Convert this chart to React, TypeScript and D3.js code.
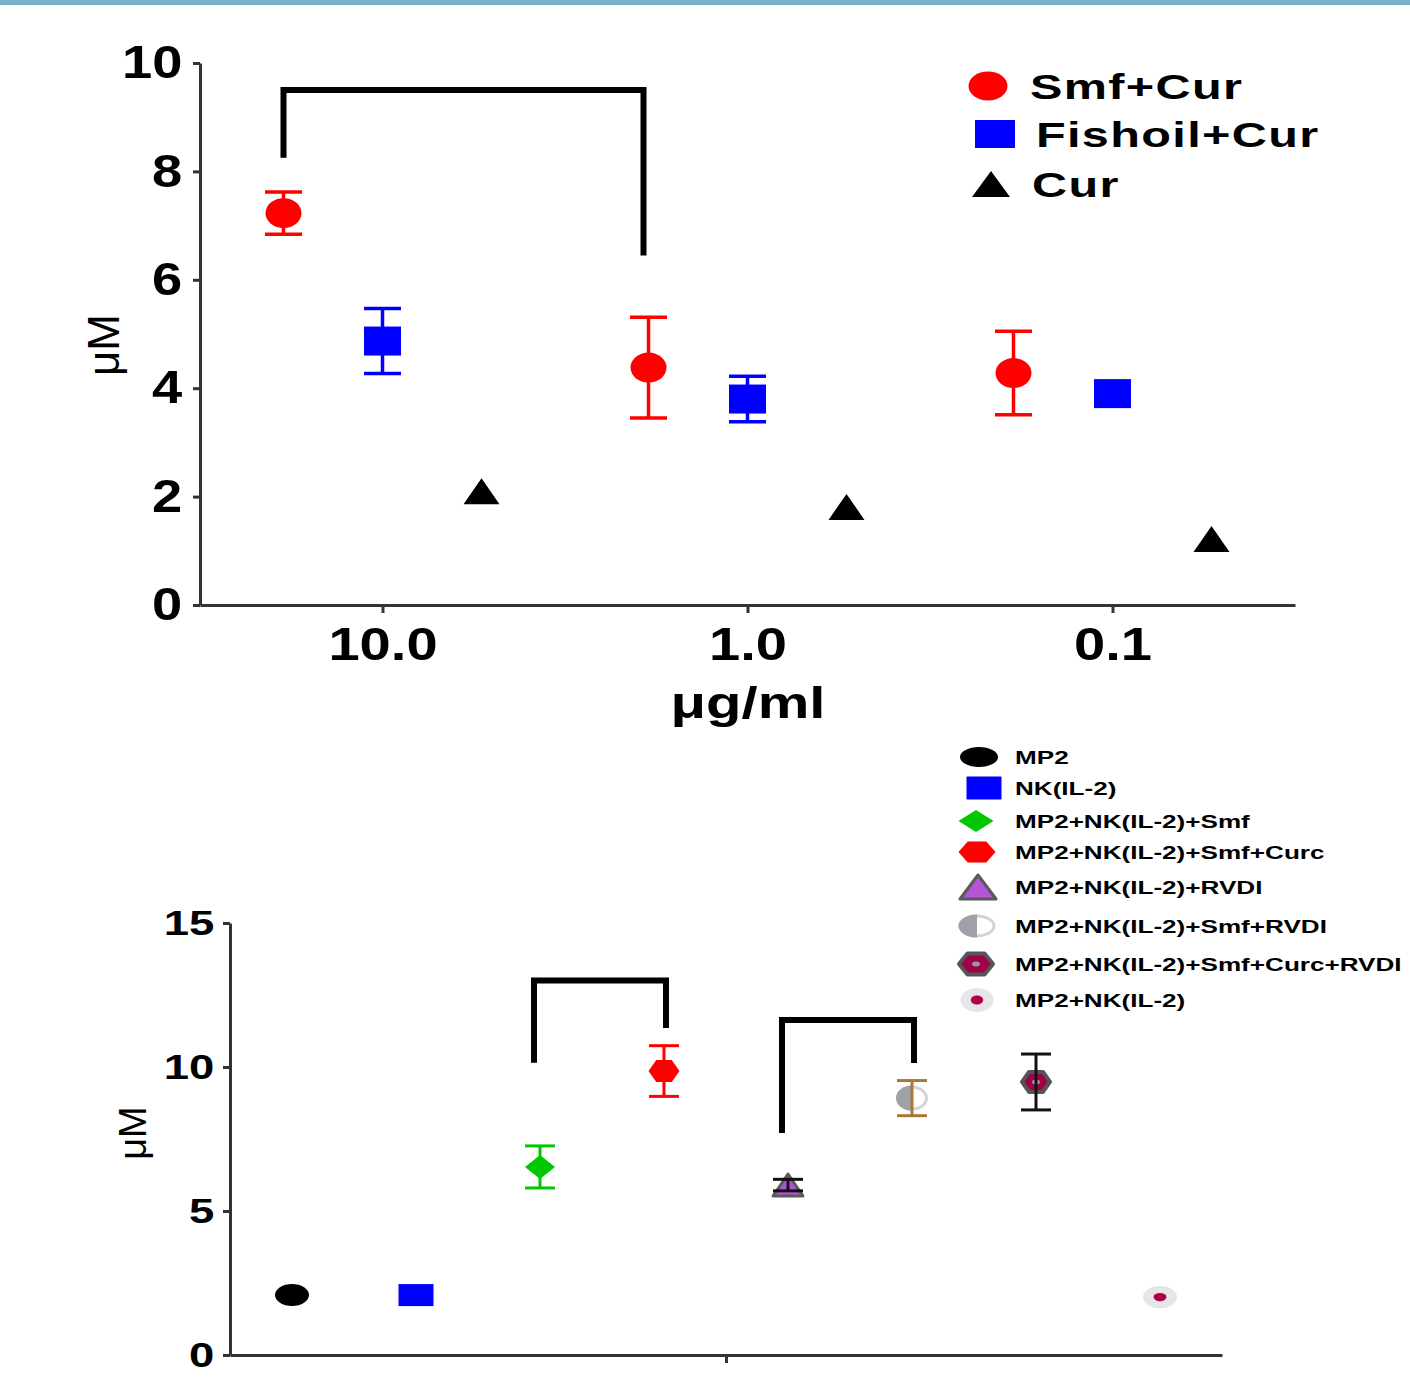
import React, { useEffect, useRef } from "react";
import * as d3 from "d3";

// ---- top panel data ----
const concentrations = [10, 1, 0.1];
const topSeries = ["Smf+Cur", "Fishoil+Cur", "Cur"];
const smfCurMean = [7.23, 4.38, 4.28];
const smfCurErr = [0.39, 0.93, 0.77];
const fishoilCurMean = [4.87, 3.8, 3.9];
const fishoilCurErr = [0.6, 0.42, 0.1];
const curMean = [2.1, 1.81, 1.22];
const curErr = [0, 0, 0];
const topYTicks = [0, 2, 4, 6, 8, 10];
// bracket: [from conc idx, to conc idx, top, left leg end, right leg end]
const topBracket = [0, 1, 9.5, 8.25, 6.45];

// ---- bottom panel data ----
const groupNames = [
  "MP2",
  "NK(IL-2)",
  "MP2+NK(IL-2)+Smf",
  "MP2+NK(IL-2)+Smf+Curc",
  "MP2+NK(IL-2)+RVDI",
  "MP2+NK(IL-2)+Smf+RVDI",
  "MP2+NK(IL-2)+Smf+Curc+RVDI",
  "MP2+NK(IL-2)",
];
const groupMeans = [2.08, 2.08, 6.53, 9.86, 5.9, 8.92, 9.48, 2.01];
const groupErrs = [0, 0, 0.73, 0.88, 0.2, 0.61, 0.97, 0];
const bottomYTicks = [0, 5, 10, 15];
const bottomBrackets = [
  [2, 3, 13.0, 10.15, 11.35],
  [4, 5, 11.63, 7.71, 10.14],
];

// styles
const FONT = "'Liberation Sans', Arial, Helvetica, sans-serif";
const topColors = ["#FF0000", "#0000FF", "#000000"];
const groupShapes = ["ellipse", "square", "diamond", "hexagon", "triangle", "half", "hexDark", "dot"];
const groupColors = ["#000000", "#0000FF", "#00C800", "#FF0000", "#B455D8", "#A0A0A8", "#A0004A", "#B0004A"];
const groupErrColors = ["#000", "#0000FF", "#00C800", "#FF0000", "#111", "#A8783A", "#111", "#000"];

const Marker = ({ kind, cx, cy, w, h, fill }: any) => {
  const hw = w / 2, hh = h / 2;
  if (kind === "ellipse") return <ellipse cx={cx} cy={cy} rx={hw} ry={hh} fill={fill} />;
  if (kind === "square") return <rect x={cx - hw} y={cy - hh} width={w} height={h} fill={fill} />;
  if (kind === "diamond")
    return <polygon points={`${cx - hw},${cy} ${cx},${cy - hh} ${cx + hw},${cy} ${cx},${cy + hh}`} fill={fill} />;
  const hex = `${cx - hw},${cy} ${cx - hw / 2},${cy - hh} ${cx + hw / 2},${cy - hh} ${cx + hw},${cy} ${cx + hw / 2},${cy + hh} ${cx - hw / 2},${cy + hh}`;
  if (kind === "hexagon") return <polygon points={hex} fill={fill} />;
  if (kind === "triangleBlack")
    return <polygon points={`${cx},${cy - hh} ${cx + hw},${cy + hh} ${cx - hw},${cy + hh}`} fill={fill} />;
  if (kind === "triangle")
    return (
      <polygon points={`${cx},${cy - hh + 1.5} ${cx + hw - 1.5},${cy + hh - 1.5} ${cx - hw + 1.5},${cy + hh - 1.5}`}
        fill={fill} stroke="#5a5a5a" strokeWidth={3} strokeLinejoin="round" />
    );
  if (kind === "half")
    return (
      <g>
        <ellipse cx={cx} cy={cy} rx={hw - 1.5} ry={hh - 1.5} fill="#fff" stroke="#d4d4d8" strokeWidth={3} />
        <path d={`M${cx},${cy - hh} A${hw},${hh} 0 0 0 ${cx},${cy + hh} Z`} fill={fill} />
      </g>
    );
  if (kind === "hexDark")
    return (
      <g>
        <polygon points={`${cx - hw + 2},${cy} ${cx - hw / 2 + 1},${cy - hh + 2} ${cx + hw / 2 - 1},${cy - hh + 2} ${cx + hw - 2},${cy} ${cx + hw / 2 - 1},${cy + hh - 2} ${cx - hw / 2 + 1},${cy + hh - 2}`}
          fill={fill} stroke="#555" strokeWidth={4} strokeLinejoin="round" />
        <ellipse cx={cx} cy={cy} rx={4} ry={2.5} fill="#999" />
      </g>
    );
  if (kind === "dot")
    return (
      <g>
        <ellipse cx={cx} cy={cy} rx={hw} ry={hh} fill="#e6e6e8" />
        <ellipse cx={cx} cy={cy} rx={hw * 0.38} ry={hh * 0.38} fill={fill} />
      </g>
    );
  return null;
};

const ErrorBar = ({ x, y0, y1, cap, color, sw }: any) => (
  <g stroke={color} strokeWidth={sw}>
    <line x1={x} x2={x} y1={y0} y2={y1} />
    <line x1={x - cap / 2} x2={x + cap / 2} y1={y0} y2={y0} />
    <line x1={x - cap / 2} x2={x + cap / 2} y1={y1} y2={y1} />
  </g>
);

const StretchText = ({ x, y, sx, size, weight, children, spacing }: any) => (
  <text transform={`translate(${x},${y}) scale(${sx},1)`} fontFamily={FONT} fontSize={size}
    fontWeight={weight} letterSpacing={spacing || 0} fill="#000">
    {children}
  </text>
);

export default function App() {
  const topY = useRef<SVGGElement>(null);
  const topX = useRef<SVGGElement>(null);
  const botY = useRef<SVGGElement>(null);
  const botX = useRef<SVGGElement>(null);

  // scales
  const yTop = d3.scaleLinear().domain([0, 10]).range([605, 63]);
  const xTop = d3.scaleLog().domain([Math.pow(10, 1.5), Math.pow(10, -1.5)]).range([200, 1295]);
  const dodge = d3.scalePoint().domain(topSeries).range([-99, 99]);
  const yBot = d3.scaleLinear().domain([0, 15]).range([1355, 923]);
  const xBot = d3.scalePoint<number>().domain(groupNames.map((_, i) => i)).range([230, 1222]).padding(0.5);
  const xBotAxis = d3.scaleLinear().domain([0, 1]).range([230, 1222]);

  useEffect(() => {
    const style = (g: any, size: number, sx: number) => {
      g.select(".domain").attr("stroke", "#333").attr("stroke-width", 3);
      g.selectAll(".tick line").attr("stroke", "#333").attr("stroke-width", 3);
      g.selectAll(".tick text")
        .attr("font-family", FONT).attr("font-size", size).attr("font-weight", "bold")
        .attr("fill", "#000").attr("transform", `scale(${sx},1)`);
    };
    const ty = d3.select(topY.current);
    ty.call(d3.axisLeft(yTop).tickValues(topYTicks).tickSize(7).tickSizeOuter(0).tickPadding(8).tickFormat(d3.format("d")) as any);
    style(ty, 46, 1.18);
    const tx = d3.select(topX.current);
    tx.call(d3.axisBottom(xTop).tickValues(concentrations).tickSize(8).tickSizeOuter(0).tickPadding(14).tickFormat((d: any) => d3.format(".1f")(d)) as any);
    style(tx, 46, 1.22);
    const by = d3.select(botY.current);
    by.call(d3.axisLeft(yBot).tickValues(bottomYTicks).tickSize(7).tickSizeOuter(0).tickPadding(5).tickFormat(d3.format("d")) as any);
    style(by, 35, 1.3);
    const bx = d3.select(botX.current);
    bx.call(d3.axisBottom(xBotAxis).tickValues([0.5]).tickSize(8).tickSizeOuter(0).tickFormat(() => "") as any);
    style(bx, 30, 1);
  }, []);

  const topMeans = [smfCurMean, fishoilCurMean, curMean];
  const topErrs = [smfCurErr, fishoilCurErr, curErr];
  const topShapes = ["ellipse", "square", "triangleBlack"];
  const topSizes = [[36, 30], [37, 29], [36, 26]];

  const bx = (i: number, s: string) => xTop(concentrations[i]) + (dodge(s) as number);
  const [bf, bt, btop, bl, br] = topBracket;

  const legendTopY = [86, 134, 184];
  const legendTopSizes = [[39, 29], [40, 28], [38, 26]];
  const legendTopTextX = [1030, 1036, 1032];
  const legendTopSymX = [988, 995, 991];

  const legendBotY = [757, 788, 821, 852, 887, 926, 964, 1000];
  const legendBotSizes = [[38, 20], [35, 23], [35, 22], [37, 21], [39, 27], [37, 23], [38, 25], [33, 24]];
  const legendBotSymX = [979, 984, 976, 977, 978, 977, 976, 977];

  const groupSizes = [[34, 22], [35, 22], [30, 24], [31, 22], [33, 25], [32, 25], [32, 24], [34, 22]];

  return (
    <svg width={1410} height={1391} style={{ position: "absolute", left: 0, top: 0, background: "#fff", overflow: "hidden" }}>
      <rect x={0} y={0} width={1410} height={1391} fill="#fff" />
      <rect x={0} y={0} width={1410} height={5} fill="#78B0C8" />

      {/* ---------- top panel ---------- */}
      <g ref={topY} transform="translate(200,0)" />
      <g ref={topX} transform="translate(0,605)" />
      <text transform="translate(119,345) rotate(-90)" textAnchor="middle" fontFamily={FONT} fontSize={44}>μM</text>
      <StretchText x={748} y={718} sx={1.32} size={44} weight="bold">
        <tspan textAnchor="middle">μg/ml</tspan>
      </StretchText>

      {/* significance bracket */}
      <path
        d={`M${bx(bf, topSeries[0])},${yTop(bl)} V${yTop(btop)} H${bx(bt, topSeries[0]) - 5} V${yTop(br)}`}
        fill="none" stroke="#000" strokeWidth={6}
      />

      {topSeries.map((s, si) => (
        <g key={s}>
          {concentrations.map((c, ci) => {
            const x = bx(ci, s);
            const m = topMeans[si][ci];
            const e = topErrs[si][ci];
            return (
              <g key={c}>
                {e > 0 && (
                  <ErrorBar x={x} y0={yTop(m + e)} y1={yTop(m - e)} cap={37} color={topColors[si]} sw={3.5} />
                )}
                <Marker kind={topShapes[si]} cx={x} cy={yTop(m)} w={topSizes[si][0]} h={topSizes[si][1]} fill={topColors[si]} />
              </g>
            );
          })}
        </g>
      ))}

      {/* top legend */}
      {topSeries.map((s, i) => (
        <g key={s}>
          <Marker kind={topShapes[i]} cx={legendTopSymX[i]} cy={legendTopY[i]} w={legendTopSizes[i][0]} h={legendTopSizes[i][1]} fill={topColors[i]} />
          <StretchText x={legendTopTextX[i]} y={legendTopY[i] + 13} sx={1.35} size={36} weight="bold" spacing={1}>{s}</StretchText>
        </g>
      ))}

      {/* ---------- bottom panel ---------- */}
      <g ref={botY} transform="translate(230,0)" />
      <g ref={botX} transform="translate(0,1355)" />
      <text transform="translate(146,1133) rotate(-90)" textAnchor="middle" fontFamily={FONT} fontSize={38}>μM</text>

      {bottomBrackets.map((b, i) => (
        <path key={i}
          d={`M${(xBot(b[0]) as number) - 6},${yBot(b[3])} V${yBot(b[2])} H${(xBot(b[1]) as number) + 2} V${yBot(b[4])}`}
          fill="none" stroke="#000" strokeWidth={6}
        />
      ))}

      {groupNames.map((n, i) => {
        const x = xBot(i) as number;
        const m = groupMeans[i];
        const e = groupErrs[i];
        return (
          <g key={i}>
            <Marker kind={groupShapes[i]} cx={x} cy={yBot(m)} w={groupSizes[i][0]} h={groupSizes[i][1]} fill={groupColors[i]} />
            {e > 0 && (
              <ErrorBar x={x} y0={yBot(m + e)} y1={yBot(m - e)} cap={30} color={groupErrColors[i]} sw={3} />
            )}
          </g>
        );
      })}

      {/* bottom legend */}
      {groupNames.map((n, i) => (
        <g key={i}>
          <Marker kind={groupShapes[i]} cx={legendBotSymX[i]} cy={legendBotY[i]} w={legendBotSizes[i][0]} h={legendBotSizes[i][1]} fill={groupColors[i]} />
          <StretchText x={1015} y={legendBotY[i] + 6.5} sx={1.45} size={18} weight="bold">{n}</StretchText>
        </g>
      ))}
    </svg>
  );
}
